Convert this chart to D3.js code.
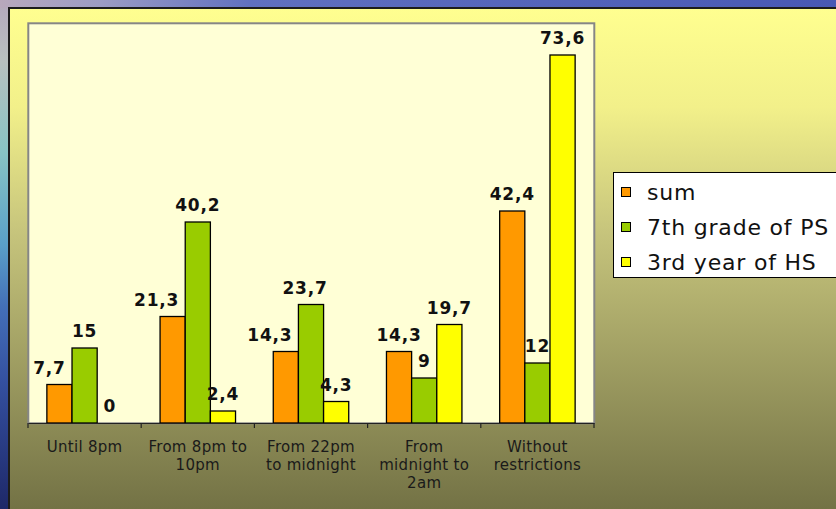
<!DOCTYPE html>
<html><head><meta charset="utf-8">
<script src="https://cdn.jsdelivr.net/npm/d3@7"></script>
<style>body{margin:0;overflow:hidden;background:#fff}svg{display:block}</style>
</head><body>
<svg id="c" width="836" height="509"></svg>
<script>
// ---- data ----
const categories = ["Until 8pm", "From 8pm to 10pm", "From 22pm to midnight", "From midnight to 2am", "Without restrictions"];
const seriesNames = ["sum", "7th grade of PS", "3rd year of HS"];
const sumValues = [7.7, 21.3, 14.3, 14.3, 42.4];
const grade7Values = [15, 40.2, 23.7, 9, 12];
const hs3Values = [0, 2.4, 4.3, 19.7, 73.6];
const yDomain = [0, 80];

// ---- style ----
const colors = ["#ff9900", "#99cc00", "#ffff00"];
const labelNudge = [[-10, 0, 0], [-16, 0, 0], [-16, -6, 0], [0, 0, 0], [0, 0, 0]];
const W = 836, H = 509;
const plot = {left: 28, top: 23, right: 594, bottom: 423};

const seriesValues = [sumValues, grade7Values, hs3Values];
const svg = d3.select("#c");
const defs = svg.append("defs");

function grad(id, vertical, stops) {
  const g = defs.append("linearGradient").attr("id", id)
    .attr("x1", 0).attr("y1", 0).attr("x2", vertical ? 0 : 1).attr("y2", vertical ? 1 : 0);
  stops.forEach(s => g.append("stop").attr("offset", s[0]).attr("stop-color", s[1]));
}
grad("bg", true, [[0, "#ffff90"], [0.2, "#f2f08a"], [0.45, "#c6c47c"], [1, "#737245"]]);
grad("skyL", true, [[0, "#b4a8bc"], [0.12, "#b8c0c0"], [0.3, "#88c4c4"], [0.48, "#5aa0c8"], [0.6, "#4470b8"], [0.75, "#3450a0"], [1, "#1e2868"]]);
grad("skyT", false, [[0, "#b8a8bc"], [0.12, "#9c9cc4"], [0.3, "#6070c0"], [1, "#4858b4"]]);

// background
svg.append("rect").attr("x", 0).attr("y", 0).attr("width", 9).attr("height", H).attr("fill", "url(#skyL)");
svg.append("rect").attr("x", 0).attr("y", 0).attr("width", W).attr("height", 8).attr("fill", "url(#skyT)");
svg.append("rect").attr("x", 8).attr("y", 7).attr("width", W - 8).attr("height", H - 7).attr("fill", "url(#bg)");
svg.append("path").attr("d", `M9,${H}V8H${W}`).attr("fill", "none").attr("stroke", "#1c1c1c").attr("stroke-width", 2);

// plot area
svg.append("rect").attr("x", plot.left + 0.3).attr("y", plot.top + 0.3)
  .attr("width", plot.right - plot.left).attr("height", plot.bottom - plot.top)
  .attr("fill", "#ffffd6").attr("stroke", "#868686").attr("stroke-width", 2);

// scales
const x = d3.scaleBand().domain(categories).range([plot.left, plot.right]).padding(0);
const bw = x.bandwidth();
const gap = bw * 1.5 / 4.5;
const x1 = d3.scaleBand().domain(seriesNames).range([gap / 2, bw - gap / 2]).padding(0);
const y = d3.scaleLinear().domain(yDomain).range([plot.bottom, plot.top]);

const fmt = v => d3.format(".1~f")(v).replace(".", ",");

// bars
const rows = categories.map((c, i) => seriesNames.map((s, j) => ({c, s, i, j, v: seriesValues[j][i]})));
const gBars = svg.append("g");
rows.forEach(r => {
  gBars.selectAll(null).data(r).enter().append("rect")
    .attr("x", d => x(d.c) + x1(d.s))
    .attr("y", d => y(d.v))
    .attr("width", x1.bandwidth())
    .attr("height", d => y(0) - y(d.v))
    .attr("fill", d => colors[d.j])
    .attr("stroke", "#000").attr("stroke-width", 1.3);
});
// labels
rows.forEach(r => {
  svg.selectAll(null).data(r).enter().append("text")
    .attr("x", d => x(d.c) + x1(d.s) + x1.bandwidth() / 2 + labelNudge[d.i][d.j])
    .attr("y", d => y(d.v) - 11)
    .attr("text-anchor", "middle")
    .attr("font-family", "DejaVu Sans, Verdana, sans-serif")
    .attr("font-weight", "bold").attr("font-size", 17).attr("letter-spacing", 0.8).attr("fill", "#111")
    .text(d => fmt(d.v));
});

// x axis
const axis = d3.axisBottom(x).tickSize(0).tickSizeOuter(0).tickFormat("");
const gAx = svg.append("g").attr("transform", `translate(0,${plot.bottom})`).call(axis);
gAx.select(".domain").attr("stroke", "#222").attr("stroke-width", 1.2);
gAx.selectAll(".tick").remove();
const bounds = categories.map(c => x(c)).concat([plot.right]);
gAx.selectAll(".bt").data(bounds).enter().append("line")
  .attr("x1", d => d).attr("x2", d => d).attr("y1", 0).attr("y2", 5)
  .attr("stroke", "#222").attr("stroke-width", 1.2);

const tl = svg.append("g").attr("font-family", "DejaVu Sans, Verdana, sans-serif")
  .attr("font-size", 15).attr("letter-spacing", 0.3).attr("fill", "#1a1a1a").attr("text-anchor", "middle");
categories.forEach(c => {
  const t = tl.append("text").attr("x", x(c) + bw / 2).attr("y", 452);
  const words = c.split(" ");
  let line = [];
  let ts = t.append("tspan").attr("x", x(c) + bw / 2).attr("dy", 0);
  words.forEach(w => {
    line.push(w);
    ts.text(line.join(" "));
    if (ts.node().getComputedTextLength() > 106 && line.length > 1) {
      line.pop();
      ts.text(line.join(" "));
      line = [w];
      ts = t.append("tspan").attr("x", x(c) + bw / 2).attr("dy", 18).text(w);
    }
  });
});

// legend
const lg = svg.append("g");
lg.append("rect").attr("x", 613.5).attr("y", 172.5).attr("width", 240).attr("height", 105)
  .attr("fill", "#ffffff").attr("stroke", "#000").attr("stroke-width", 1);
seriesNames.forEach((s, j) => {
  const cy = 192 + j * 35;
  lg.append("rect").attr("x", 621.5).attr("y", cy - 4.5).attr("width", 9).attr("height", 9)
    .attr("fill", colors[j]).attr("stroke", "#000").attr("stroke-width", 1);
  lg.append("text").attr("x", 647).attr("y", cy + 7.5)
    .attr("font-family", "DejaVu Sans, Verdana, sans-serif").attr("font-size", 22).attr("letter-spacing", 0.8).attr("fill", "#111")
    .text(s);
});
</script>
</body></html>
